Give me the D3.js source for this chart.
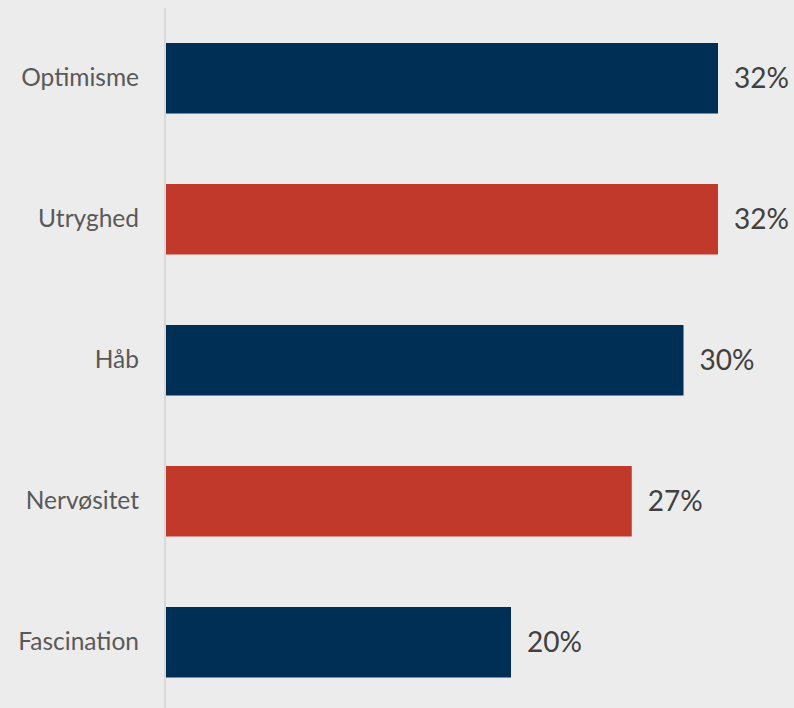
<!DOCTYPE html>
<html>
<head>
<meta charset="utf-8">
<script src="https://cdn.jsdelivr.net/npm/d3@7"></script>
<style>
  html, body { margin: 0; padding: 0; background: #ececec; }
  svg { display: block; }
</style>
</head>
<body>
<svg id="chart" width="794" height="708"></svg>
<script>
const categories = ["Optimisme", "Utryghed", "Håb", "Nervøsitet", "Fascination"];
const values = [0.32, 0.32, 0.30, 0.27, 0.20];
const valueLabels = ["32%", "32%", "30%", "27%", "20%"];
const barColors = ["#002f56", "#c0392b", "#002f56", "#c0392b", "#002f56"];

const data = categories.map((c, i) => ({ cat: c, value: values[i], label: valueLabels[i], color: barColors[i] }));

const svg = d3.select("#chart");
const W = 794, H = 708;

svg.append("rect").attr("width", W).attr("height", H).attr("fill", "#ececec");

const x = d3.scaleLinear().domain([0, 0.4]).range([166, 856]);
const y = d3.scaleBand().domain(categories).range([7.75, 712.75]).paddingInner(0.5).paddingOuter(0.25);

// bars
svg.append("g").selectAll("rect").data(data).join("rect")
  .attr("x", x(0))
  .attr("y", d => y(d.cat))
  .attr("width", d => x(d.value) - x(0))
  .attr("height", y.bandwidth())
  .attr("fill", d => d.color);

// axis line
const yAxis = d3.axisLeft(y).tickSize(0).tickPadding(26);
const ga = svg.append("g").attr("transform", `translate(${x(0) - 1},0)`).call(yAxis);
ga.select(".domain").attr("stroke", "#d9d9d9").attr("stroke-width", 2).attr("d", `M0,8V${H}`);
ga.selectAll("text")
  .attr("font-family", "Lato, 'Open Sans', sans-serif")
  .attr("font-size", 24.5)
  .attr("fill", "#595959");

// value labels
svg.append("g").selectAll("text").data(data).join("text")
  .attr("x", d => x(d.value) + 16)
  .attr("y", d => y(d.cat) + y.bandwidth() / 2)
  .attr("dy", "0.36em")
  .attr("font-family", "Lato, 'Open Sans', sans-serif")
  .attr("font-size", 28)
  .attr("fill", "#404040")
  .text(d => d.label);
</script>
</body>
</html>
